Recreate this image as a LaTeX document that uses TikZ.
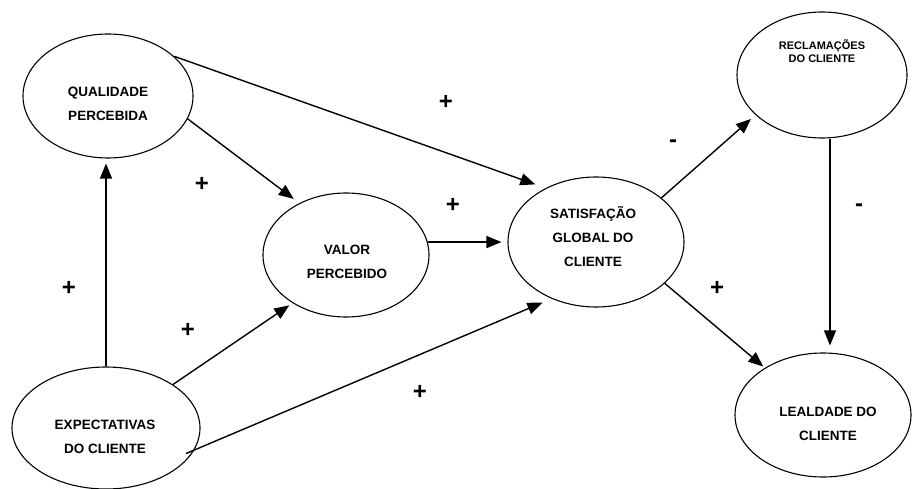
\documentclass[tikz,border=0pt]{standalone}
\usepackage{fontspec}
\setmainfont{Liberation Sans}
\usetikzlibrary{shapes.geometric,arrows.meta}
\begin{document}
\begin{tikzpicture}[x=1pt,y=-1pt,
  elli/.style={ellipse,draw,line width=1.1pt,inner sep=0pt},
  lbl/.style={font=\fontsize{13.5}{24}\selectfont\bfseries,align=center,inner sep=0pt},
  slbl/.style={font=\fontsize{11}{13}\selectfont\bfseries,align=center,inner sep=0pt},
  sign/.style={font=\fontsize{24}{24}\selectfont\bfseries,inner sep=0pt},
  arr/.style={-{Triangle[length=15pt,width=12pt]},line width=1.4pt}]
\useasboundingbox (0,0) rectangle (913,489);
\fill[white] (0,0) rectangle (913,489);
% ellipses
\node[elli,minimum width=170pt,minimum height=124pt] (qual) at (108,96) {};
\node[elli,minimum width=166pt,minimum height=124pt] (valor) at (346,255) {};
\node[elli,minimum width=176pt,minimum height=130pt] (sat) at (596,242) {};
\node[elli,minimum width=170pt,minimum height=126pt] (recl) at (822,75) {};
\node[elli,minimum width=188pt,minimum height=122pt] (exp) at (106,428) {};
\node[elli,minimum width=176pt,minimum height=124pt] (leal) at (823,415) {};
% texts
\node[lbl] (qualt) at (108,104) {QUALIDADE\\PERCEBIDA};
\node[lbl] (valort) at (347,261.5) {VALOR\\PERCEBIDO};
\node[lbl] (satt) at (593,237) {SATISFAÇÃO\\GLOBAL DO\\CLIENTE};
\node[slbl] (reclt) at (822,51) {RECLAMAÇÕES\\DO CLIENTE};
\node[lbl] (expt) at (105,436.5) {EXPECTATIVAS\\DO CLIENTE};
\node[lbl] (lealt) at (828,423.5) {LEALDADE DO\\CLIENTE};
% connectors
\draw[arr,shorten >=11pt] (qual.31) -- (sat.133);
\draw[arr,shorten >=7pt] (qual.-16) -- (valor.132);
\draw[arr,shorten >=5pt] (exp.north) -- (exp.north |- qual.south);
\draw[arr,shorten >=4pt] (exp.33) -- (valor.222);
\draw[arr,shorten <=-9pt,shorten >=10pt] (exp.-14) -- (sat.232);
\draw[arr,shorten >=6pt] (valor.9) -- (valor.9 -| sat.west);
\draw[arr,shorten >=6pt] (sat.34) -- (recl.211);
\draw[arr,shorten >=2pt] (sat.-31) -- (leal.141);
\draw[arr,shorten >=7pt] ([xshift=8pt]recl.south) -- ([xshift=8pt]recl.south |- leal.north);
% signs
\node[sign] (p1) at (446,102) {+};
\node[sign] (p2) at (453,205) {+};
\node[sign] (p3) at (202,184) {+};
\node[sign] (p4) at (188,330) {+};
\node[sign] (p5) at (69,288) {+};
\node[sign] (p6) at (420,392) {+};
\node[sign] (p7) at (717,288) {+};
\node[sign] (m1) at (673,144) {-};
\node[sign] (m2) at (859,208) {-};
\end{tikzpicture}
\end{document}
